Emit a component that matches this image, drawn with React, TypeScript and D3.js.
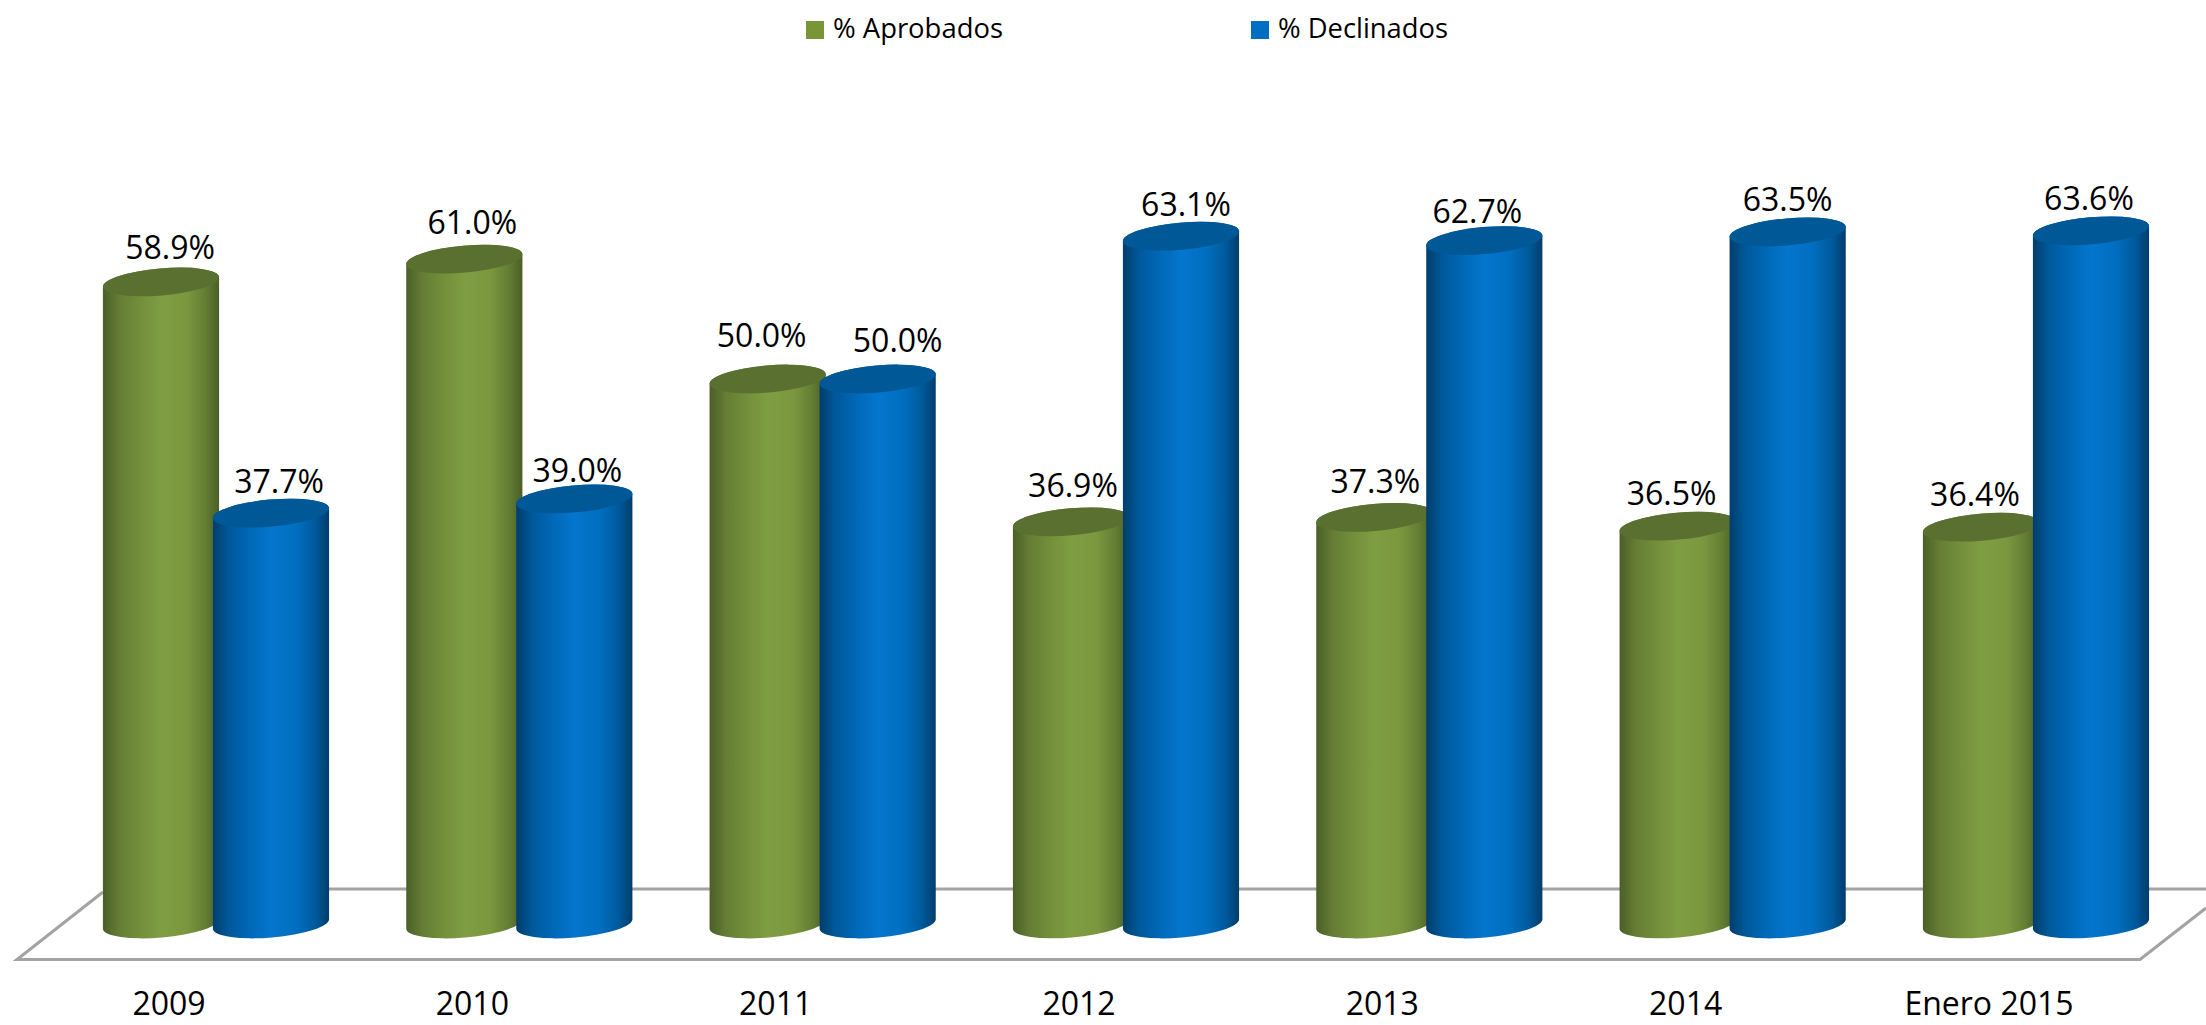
import React from "react";
import * as d3 from "d3";

const categories = ["2009", "2010", "2011", "2012", "2013", "2014", "Enero 2015"];
const aprobados = [58.9, 61.0, 50.0, 36.9, 37.3, 36.5, 36.4];
const declinados = [37.7, 39.0, 50.0, 63.1, 62.7, 63.5, 63.6];
const seriesNames = ["% Aprobados", "% Declinados"];

// hand-placed label nudges of the original, in pixels
const aprobadosNudge: [number, number][] = [[9, 5], [8, 3], [-6, -4], [2, 3], [1, 4], [-6, 7], [-6, 7]];
const declinadosNudge: [number, number][] = [[8, 8], [3, 11], [20, 1], [5, 8], [-7, 10], [0, 7], [-2, 7]];

const W = 2206, H = 1025;
const BAR_W = 116, BLUE_DX = 110, RX = 58.3, RY = 13.5, ROT = -5;
const FONT = "'Open Sans', sans-serif";

const x = d3.scaleBand<string>().domain(categories).range([103, 103 + 303.33 * 7]);
const y = d3.scaleLinear().domain([0, 70]).range([924, 161]);

function cylinder(left: number, yBase: number, yTop: number) {
  const dx = RX * Math.cos((ROT * Math.PI) / 180);
  const dy = RX * Math.sin((ROT * Math.PI) / 180);
  const cx = left + BAR_W / 2;
  const body =
    `M${cx - dx},${yTop - dy}L${cx - dx},${yBase - dy}` +
    `A${RX},${RY} ${ROT} 0 0 ${cx + dx},${yBase + dy}` +
    `L${cx + dx},${yTop + dy}` +
    `A${RX},${RY} ${ROT} 0 0 ${cx - dx},${yTop - dy}Z`;
  return { body, cx };
}

function Bar({ left, value, fill, cap }: { left: number; value: number; fill: string; cap: string }) {
  const { body, cx } = cylinder(left, y(0), y(value));
  return (
    <g>
      <path d={body} fill={fill} />
      <ellipse cx={cx} cy={y(value)} rx={RX} ry={RY} fill={cap} transform={`rotate(${ROT} ${cx} ${y(value)})`} />
    </g>
  );
}

function Gradient({ id, stops }: { id: string; stops: [number, string][] }) {
  return (
    <linearGradient id={id} x1="0" x2="1" y1="0" y2="0">
      {stops.map(([o, c]) => (
        <stop key={o} offset={o} stopColor={c} />
      ))}
    </linearGradient>
  );
}

export default function App() {
  const pct = (v: number) => `${v.toFixed(1)}%`;
  const labelY = (v: number) => y(v) - 28;
  return (
    <svg width={W} height={H} style={{ position: "absolute", left: 0, top: 0, background: "#fff" }}>
      <defs>
        <Gradient
          id="green"
          stops={[[0, "#4a5f27"], [0.14, "#647d34"], [0.32, "#738f3b"], [0.5, "#7f9d42"], [0.72, "#7b983f"], [0.88, "#647e34"], [1, "#4a5f27"]]}
        />
        <Gradient
          id="blue"
          stops={[[0, "#003d6b"], [0.14, "#00599b"], [0.32, "#0068b8"], [0.5, "#0476cd"], [0.72, "#006ec0"], [0.88, "#005a9c"], [1, "#003d6b"]]}
        />
      </defs>

      {/* legend */}
      <rect x={806} y={21} width={18} height={18} fill="#789636" />
      <text x={833} y={38} fontFamily={FONT} fontSize={28} textLength={170} lengthAdjust="spacingAndGlyphs">{seriesNames[0]}</text>
      <rect x={1251} y={21} width={18} height={18} fill="#006fc3" />
      <text x={1278} y={38} fontFamily={FONT} fontSize={28} textLength={170} lengthAdjust="spacingAndGlyphs">{seriesNames[1]}</text>

      {/* floor */}
      <g fill="none" stroke="#a3a3a3" strokeWidth={3}>
        <path d="M103,889L2206,889" />
        <path d="M2206,908L2140,959.5L17,959.5L103,892" />
      </g>

      {/* bars */}
      {categories.map((c, i) => {
        const l = x(c)!;
        return (
          <g key={c}>
            <Bar left={l} value={aprobados[i]} fill="url(#green)" cap="#5a7030" />
            <Bar left={l + BLUE_DX} value={declinados[i]} fill="url(#blue)" cap="#005897" />
          </g>
        );
      })}

      {/* value labels */}
      <g fontFamily={FONT} fontSize={32} textAnchor="middle" fill="#000">
        {categories.map((c, i) => {
          const l = x(c)! + BAR_W / 2;
          return (
            <g key={c}>
              <text x={l + aprobadosNudge[i][0]} y={labelY(aprobados[i]) + aprobadosNudge[i][1]}>{pct(aprobados[i])}</text>
              <text x={l + BLUE_DX + declinadosNudge[i][0]} y={labelY(declinados[i]) + declinadosNudge[i][1]}>{pct(declinados[i])}</text>
            </g>
          );
        })}
      </g>

      {/* category labels */}
      <g fontFamily={FONT} fontSize={32} textAnchor="middle" fill="#000">
        {categories.map((c) => (
          <text key={c} x={x(c)! + 66} y={1015}>{c}</text>
        ))}
      </g>
    </svg>
  );
}
